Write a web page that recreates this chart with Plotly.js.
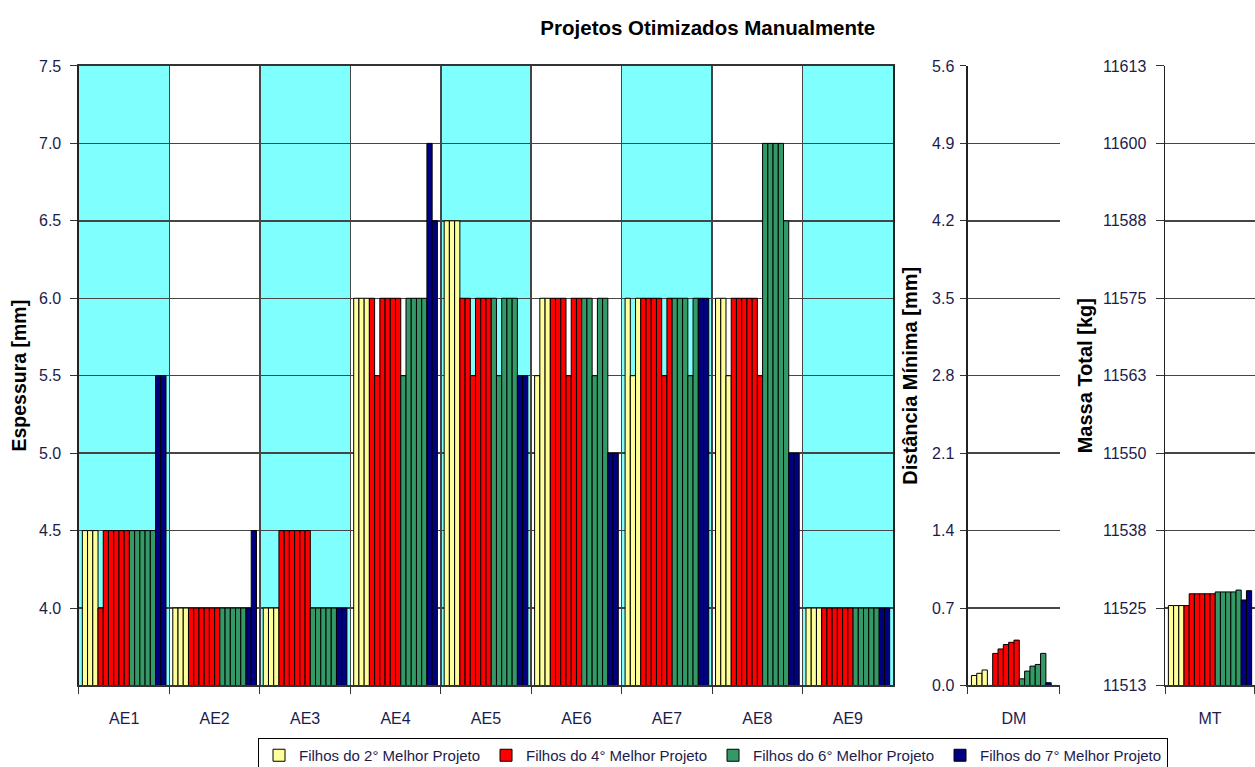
<!DOCTYPE html>
<html><head><meta charset="utf-8">
<script src="https://cdn.plot.ly/plotly-3.0.1.min.js"></script>
<style>html,body{margin:0;padding:0;overflow:hidden;background:#fff}</style>
</head><body><div id="chart" style="width:1255px;height:767px"></div>
<script>
// ---------- DATA ----------
const categories = ['AE1','AE2','AE3','AE4','AE5','AE6','AE7','AE8','AE9'];
const seriesNames = ['Filhos do 2° Melhor Projeto','Filhos do 4° Melhor Projeto','Filhos do 6° Melhor Projeto','Filhos do 7° Melhor Projeto'];
const seriesColors = ['#FFFF99','#FF0000','#339966','#000080'];

// Espessura [mm]: per category, values of each child design
const yellowAE = [[4.5,4.5,4.5],[4,4,4],[4,4,4],[6,6,6],[6.5,6.5,6.5],[5.5,6,6],[6,5.5,6],[6,6,5.5],[4,4,4]];
const redAE = [[4,4.5,4.5,4.5,4.5,4.5],[4,4,4,4,4,4],[4.5,4.5,4.5,4.5,4.5,4.5],[6,5.5,6,6,6,6],[6,6,5.5,6,6,6],[6,6,6,5.5,6,6],[6,6,6,6,5.5,6],[6,6,6,6,6,5.5],[4,4,4,4,4,4]];
const greenAE = [[4.5,4.5,4.5,4.5,4.5],[4,4,4,4,4],[4,4,4,4,4],[5.5,6,6,6,6],[6,5.5,6,6,6],[6,6,5.5,6,6],[6,6,6,5.5,6],[7,7,7,7,6.5],[4,4,4,4,4]];
const navyAE = [[5.5,5.5],[4,4.5],[4,4],[7,6.5],[5.5,5.5],[5,5],[6,6],[5,5],[4,4]];

// Distância Mínima [mm]
const yellowDM = [0.09,0.11,0.14];
const redDM = [0,0.29,0.33,0.37,0.39,0.41];
const greenDM = [0.06,0.13,0.175,0.19,0.29];
const navyDM = [0.025,0];

// Massa Total [kg]
const yellowMT = [11525.4,11525.4,11525.4];
const redMT = [11525.4,11527.3,11527.3,11527.3,11527.3,11527.3];
const greenMT = [11527.6,11527.6,11527.6,11527.6,11527.9];
const navyMT = [11526.3,11527.8];

const yTicksAE = [4.0,4.5,5.0,5.5,6.0,6.5,7.0,7.5];
const yTicksDM = [0,0.7,1.4,2.1,2.8,3.5,4.2,4.9,5.6];
const yTicksMT = [11512.5,11525,11537.5,11550,11562.5,11575,11587.5,11600,11612.5];
const yTickTextMT = ['11513','11525','11538','11550','11563','11575','11588','11600','11613'];

// ---------- BUILD ----------
const AE = [yellowAE, redAE, greenAE, navyAE];
const DM = [yellowDM, redDM, greenDM, navyDM];
const MT = [yellowMT, redMT, greenMT, navyMT];
const FONT = 'Arial, "Liberation Sans", sans-serif';
const TXT = '#1c1c4c';

const traces = [];
for (let s = 0; s < 4; s++) {
  const nChild = DM[s].length;
  for (let c = 0; c < nChild; c++) {
    const common = {type:'bar', marker:{color:seriesColors[s], line:{color:'#000', width:1}},
      name:seriesNames[s], legendgroup:'g'+s, hoverinfo:'x+y'};
    traces.push(Object.assign({}, common, {x:categories, y:AE[s].map(r => r[c]), xaxis:'x', yaxis:'y', showlegend:c===0}));
    traces.push(Object.assign({}, common, {x:['DM'], y:[DM[s][c]], xaxis:'x2', yaxis:'y2', showlegend:false}));
    traces.push(Object.assign({}, common, {x:['MT'], y:[MT[s][c]], xaxis:'x3', yaxis:'y3', showlegend:false}));
  }
}

const shapes = [];
categories.forEach((c, i) => {
  if (i % 2 === 0) shapes.push({type:'rect', xref:'x', yref:'y domain', x0:i-0.5, x1:i+0.5, y0:0, y1:1,
    fillcolor:'#80FFFF', line:{width:0}, layer:'below'});
});

const yDom = [0.1063, 0.914];
const gridC = '#454545';
const xBase = {type:'category', tickson:'boundaries', ticks:'outside', ticklen:7, tickcolor:'#333',
  showline:true, linecolor:'#333', linewidth:1.5, tickfont:{family:FONT, size:16, color:TXT},
  ticklabelstandoff:18, fixedrange:true};
const yBase = {ticks:'outside', ticklen:7, tickcolor:'#333', showline:true, linecolor:'#222', linewidth:1.5,
  showgrid:true, gridcolor:gridC, gridwidth:1.5, zeroline:false, tickfont:{family:FONT, size:16, color:TXT},
  ticklabelstandoff:6, domain:yDom, fixedrange:true};

const layout = {
  width:1255, height:767, margin:{l:0, r:0, t:0, b:0, autoexpand:false},
  paper_bgcolor:'#fff', plot_bgcolor:'#fff',
  font:{family:FONT, color:'#000'},
  barmode:'group', bargap:0.075, bargroupgap:0,
  title:{text:'<b>Projetos Otimizados Manualmente</b>', x:0.564, xanchor:'center', y:0.9635, yanchor:'middle',
    font:{family:FONT, size:20.5, color:'#000'}},
  xaxis:Object.assign({}, xBase, {domain:[0.0629, 0.7116], anchor:'y', range:[-0.5, 8.5], showgrid:true,
    gridcolor:gridC, gridwidth:1.5, mirror:true}),
  yaxis:Object.assign({}, yBase, {anchor:'x', range:[3.5, 7.5], tickvals:yTicksAE, tickformat:'.1f', mirror:true,
    title:{text:'<b>Espessura [mm]</b>', font:{family:FONT, size:19.5, color:'#000'}, standoff:7}}),
  xaxis2:Object.assign({}, xBase, {domain:[0.7713, 0.8446], anchor:'y2', range:[-0.5, 0.5], showgrid:false}),
  yaxis2:Object.assign({}, yBase, {anchor:'x2', range:[0, 5.6], tickvals:yTicksDM, tickformat:'.1f', ticklen:6,
    ticklabelstandoff:3,
    title:{text:'<b>Distância Mínima [mm]</b>', font:{family:FONT, size:20, color:'#000'}, standoff:9}}),
  xaxis3:Object.assign({}, xBase, {domain:[0.9283, 1.0], anchor:'y3', range:[-0.5, 0.5], showgrid:false}),
  yaxis3:Object.assign({}, yBase, {anchor:'x3', range:[11512.5, 11612.5], tickvals:yTicksMT, ticktext:yTickTextMT,
    ticklen:8, ticklabelstandoff:6,
    title:{text:'<b>Massa Total [kg]</b>', font:{family:FONT, size:20, color:'#000'}, standoff:5}}),
  shapes:shapes,
  showlegend:true,
  legend:{orientation:'h', x:0.2056, xanchor:'left', y:0.0378, yanchor:'top', traceorder:'normal',
    entrywidth:182, entrywidthmode:'pixels',
    bordercolor:'#000', borderwidth:1, bgcolor:'#fff', font:{family:FONT, size:15, color:TXT}}
};

Plotly.newPlot('chart', traces, layout, {displayModeBar:false, staticPlot:true});
</script></body></html>
